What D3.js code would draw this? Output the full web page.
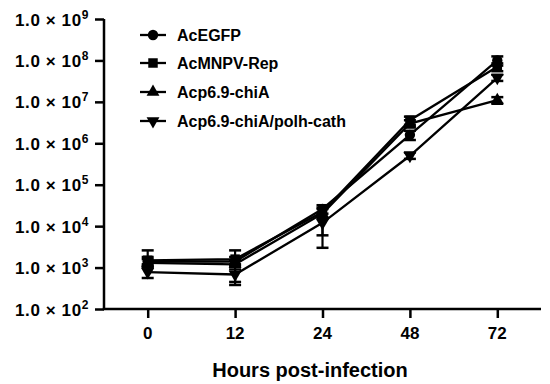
<!DOCTYPE html>
<html><head><meta charset="utf-8">
<script src="https://cdn.jsdelivr.net/npm/d3@7"></script>
<style>
html,body{margin:0;padding:0;background:#fff;}
text{font-family:"Liberation Sans",Arial,sans-serif;font-weight:bold;fill:#000;}
</style></head>
<body><svg id="c" width="550" height="384"></svg>
<script>
const hours = ["0","12","24","48","72"];
const seriesNames = ["AcEGFP","AcMNPV-Rep","Acp6.9-chiA","Acp6.9-chiA/polh-cath"];
const symbolsUsed = ["circle","square","triangle","triangleDown"];
const acegfp    = [1.4e3, 1.4e3, 2.6e4, 1.6e6, 1.0e8];
const acegfpLo  = [1.1e3, 1.1e3, 2.0e4, 1.2e6, 7.5e7];
const acegfpHi  = [1.8e3, 1.8e3, 3.2e4, 2.0e6, 1.25e8];
const rep       = [1.5e3, 1.6e3, 2.2e4, 3.6e6, 7.0e7];
const repLo     = [1.2e3, 1.2e3, 1.6e4, 2.8e6, 5.5e7];
const repHi     = [2.6e3, 2.6e3, 2.8e4, 4.4e6, 8.5e7];
const chia      = [1.3e3, 1.2e3, 2.0e4, 3.0e6, 1.1e7];
const chiaLo    = [1.0e3, 4.5e2, 6.0e3, 2.4e6, 9.0e6];
const chiaHi    = [1.6e3, 1.5e3, 2.6e4, 3.6e6, 1.3e7];
const cath      = [7.8e2, 6.8e2, 1.2e4, 5.0e5, 3.8e7];
const cathLo    = [5.6e2, 3.8e2, 3.0e3, 4.2e5, 3.2e7];
const cathHi    = [1.0e3, 9.0e2, 1.5e4, 6.0e5, 4.5e7];
const yTickExps = [2,3,4,5,6,7,8,9];
const xTitle = "Hours post-infection";

const series = [
  {name:seriesNames[0], v:acegfp, lo:acegfpLo, hi:acegfpHi, sym:symbolsUsed[0]},
  {name:seriesNames[1], v:rep, lo:repLo, hi:repHi, sym:symbolsUsed[1]},
  {name:seriesNames[2], v:chia, lo:chiaLo, hi:chiaHi, sym:symbolsUsed[2]},
  {name:seriesNames[3], v:cath, lo:cathLo, hi:cathHi, sym:symbolsUsed[3]}
];

const svg = d3.select("#c");
const L = 104, R = 541, T = 19, B = 309;
const x = d3.scalePoint().domain(hours).range([L, R]).padding(0.5);
const y = d3.scaleLog().domain([1e2, 1e9]).range([B, T]);

function symPath(s){
  if(s==="circle") return d3.symbol(d3.symbolCircle, 85)();
  if(s==="square") return d3.symbol(d3.symbolSquare, 90)();
  return d3.symbol(d3.symbolTriangle, 72)();
}
function symTransform(s, cx, cy){
  return s==="triangleDown" ? `translate(${cx},${cy}) rotate(180)` : `translate(${cx},${cy})`;
}

// axes
const yAxis = d3.axisLeft(y).tickValues(yTickExps.map(e=>Math.pow(10,e))).tickSize(9).tickFormat("");
const gy = svg.append("g").attr("transform",`translate(${L},0)`).call(yAxis);
gy.select(".domain").attr("d",`M0,${T}V${B}`).attr("stroke","#000").attr("stroke-width",2.5);
gy.selectAll(".tick line").attr("stroke","#000").attr("stroke-width",2.5);

const xAxis = d3.axisBottom(x).tickSize(9).tickFormat("");
const gx = svg.append("g").attr("transform",`translate(0,${B})`).call(xAxis);
gx.select(".domain").attr("d",`M${L-1.25},0H${R}`).attr("stroke","#000").attr("stroke-width",2.5);
gx.selectAll(".tick line").attr("stroke","#000").attr("stroke-width",2.5);

// y tick labels
yTickExps.forEach(e=>{
  const t = svg.append("text").attr("x",89).attr("y",y(Math.pow(10,e))+6.5)
    .attr("text-anchor","end").style("font-size","17px").style("letter-spacing","0.6px");
  t.append("tspan").text("1.0 \u00d7 10");
  t.append("tspan").attr("dy",-7).style("font-size","12px").text(String(e));
});
// x tick labels
hours.forEach(h=>{
  svg.append("text").attr("x",x(h)).attr("y",339).attr("text-anchor","middle")
    .style("font-size","17px").text(h);
});
svg.append("text").attr("x",310).attr("y",377).attr("text-anchor","middle")
  .style("font-size","20px").text(xTitle);

// error bars
series.forEach(s=>{
  const g = svg.append("g");
  hours.forEach((h,i)=>{
    const cx = x(h), y1 = y(s.lo[i]), y2 = y(s.hi[i]);
    g.append("line").attr("x1",cx).attr("x2",cx).attr("y1",y1).attr("y2",y2).attr("stroke","#000").attr("stroke-width",2.2);
    [y1,y2].forEach(yy=>g.append("line").attr("x1",cx-6).attr("x2",cx+6).attr("y1",yy).attr("y2",yy).attr("stroke","#000").attr("stroke-width",2.5));
  });
});
// lines
const line = d3.line().x((d,i)=>x(hours[i])).y(d=>y(d));
series.forEach(s=>{
  svg.append("path").attr("d",line(s.v)).attr("fill","none").attr("stroke","#000").attr("stroke-width",2.3);
});
// markers
series.forEach(s=>{
  s.v.forEach((v,i)=>{
    svg.append("path").attr("d",symPath(s.sym)).attr("transform",symTransform(s.sym,x(hours[i]),y(v))).attr("fill","#000");
  });
});

// legend
const legY = [35,63,92,121];
series.forEach((s,i)=>{
  const yy = legY[i];
  svg.append("line").attr("x1",140).attr("x2",166).attr("y1",yy).attr("y2",yy).attr("stroke","#000").attr("stroke-width",2.3);
  svg.append("path").attr("d",symPath(s.sym)).attr("transform",symTransform(s.sym,153,yy)).attr("fill","#000");
  svg.append("text").attr("x",177).attr("y",yy+6).style("font-size","16px").text(s.name);
});
</script></body></html>
